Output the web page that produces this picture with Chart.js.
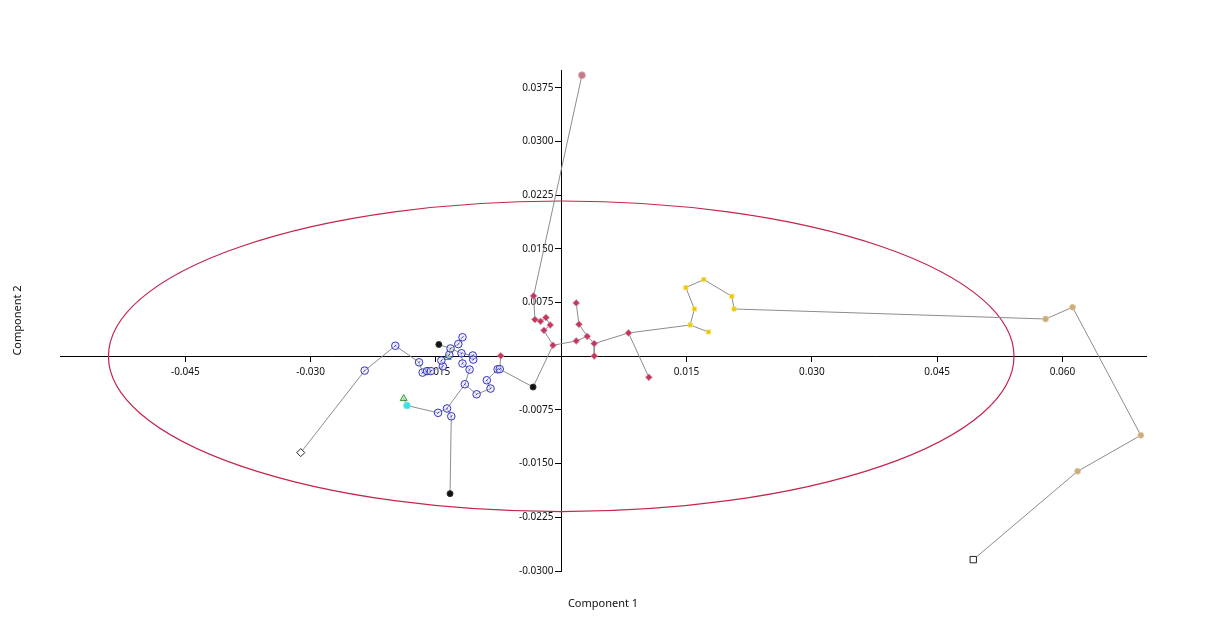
<!DOCTYPE html>
<html>
<head>
<meta charset="utf-8">
<title>PCA scores</title>
<script src="https://cdn.jsdelivr.net/npm/chart.js@4.4.1/dist/chart.umd.min.js"></script>
<style>
  html, body { margin: 0; padding: 0; background: #fff; }
  #wrap { width: 1206px; height: 641px; position: relative; }
</style>
</head>
<body>
<div id="wrap"><canvas id="pca-chart"></canvas></div>
<script>
// scores on component 1 / component 2, one list per group
const bluePoints = [
  [-0.02353, -0.00200], [-0.01986, 0.00147], [-0.01702, -0.00084], [-0.01659, -0.00228],
  [-0.01606, -0.00207], [-0.01561, -0.00207], [-0.01417, -0.00140], [-0.01435, -0.00059],
  [-0.01340, 0.00021], [-0.01325, 0.00109], [-0.01232, 0.00170], [-0.01182, 0.00266],
  [-0.01194, 0.00042], [-0.01059, 0.00011], [-0.01053, -0.00046], [-0.01182, -0.00101],
  [-0.01097, -0.00186], [-0.01154, -0.00391], [-0.01013, -0.00531], [-0.00846, -0.00451],
  [-0.00891, -0.00335], [-0.00762, -0.00182], [-0.00736, -0.00179], [-0.01474, -0.00790],
  [-0.01367, -0.00729], [-0.01316, -0.00838]
];
const redPoints = [
  [-0.00724, 0.00007], [-0.00331, 0.00843], [-0.00315, 0.00513], [-0.00248, 0.00489],
  [-0.00183, 0.00541], [-0.00132, 0.00437], [-0.00207, 0.00363], [-0.00099, 0.00154],
  [0.00179, 0.00745], [0.00212, 0.00447], [0.00311, 0.00279], [0.00179, 0.00214],
  [0.00395, 0.00177], [0.00395, 0.00004], [0.00805, 0.00326], [0.01049, -0.00293]
];
const yellowPoints = [
  [0.01543, 0.00437], [0.01762, 0.00340], [0.01594, 0.00661], [0.01492, 0.00960],
  [0.01707, 0.01072], [0.02042, 0.00838], [0.02069, 0.00661]
];
const tanPoints = [[0.05798, 0.00521], [0.06121, 0.00685], [0.06938, -0.01104], [0.06181, -0.01607]];
const pinkPoints = [[0.00248, 0.03927]];
const blackPoints = [[-0.01465, 0.00165], [-0.00337, -0.00430], [-0.01331, -0.01919]];
const greenPoints = [[-0.01886, -0.00591], [-0.01360, -0.00018]];
const cyanPoints = [[-0.01846, -0.00688]];
const diamondPoints = [[-0.03118, -0.01346]];
const squarePoints = [[0.04932, -0.02841]];

// minimum spanning tree: [groupA, indexA, groupB, indexB]
const treeEdges = [
  ["diamond", 0, "blue", 0], ["blue", 0, "blue", 1], ["blue", 1, "blue", 2], ["blue", 2, "blue", 3],
  ["blue", 3, "blue", 4], ["blue", 4, "blue", 5], ["blue", 5, "blue", 6], ["blue", 6, "blue", 7],
  ["blue", 7, "blue", 8], ["blue", 8, "blue", 9], ["black", 0, "blue", 9], ["blue", 9, "blue", 10],
  ["blue", 10, "blue", 11], ["blue", 9, "blue", 12], ["blue", 12, "blue", 13], ["blue", 13, "blue", 14],
  ["blue", 12, "blue", 15], ["blue", 15, "blue", 16], ["blue", 16, "blue", 17], ["blue", 17, "blue", 18],
  ["blue", 18, "blue", 19], ["blue", 19, "blue", 20], ["blue", 20, "blue", 21], ["blue", 21, "blue", 22],
  ["red", 0, "blue", 22], ["black", 1, "blue", 22], ["blue", 17, "blue", 24], ["blue", 24, "blue", 23],
  ["blue", 23, "cyan", 0], ["cyan", 0, "green", 0], ["blue", 24, "blue", 25], ["blue", 25, "black", 2],
  ["red", 7, "black", 1], ["pink", 0, "red", 1], ["red", 1, "red", 2], ["red", 2, "red", 3],
  ["red", 3, "red", 4], ["red", 4, "red", 5], ["red", 5, "red", 6], ["red", 6, "red", 7],
  ["red", 7, "red", 11], ["red", 11, "red", 10], ["red", 10, "red", 9], ["red", 9, "red", 8],
  ["red", 10, "red", 12], ["red", 12, "red", 13], ["red", 12, "red", 14], ["red", 14, "red", 15],
  ["red", 14, "yellow", 0], ["yellow", 0, "yellow", 1], ["yellow", 0, "yellow", 2], ["yellow", 2, "yellow", 3],
  ["yellow", 3, "yellow", 4], ["yellow", 4, "yellow", 5], ["yellow", 5, "yellow", 6], ["yellow", 6, "tan", 0],
  ["tan", 0, "tan", 1], ["tan", 1, "tan", 2], ["tan", 2, "tan", 3], ["tan", 3, "square", 0]
];

// 95% ellipse: centre and semi-axes in data units
const ellipseCenter = [0, 0];
const ellipseRadii = [0.0542, 0.0217];

const xRange = [-0.06, 0.07];
const yRange = [-0.03, 0.04];
const xTicks = [-0.045, -0.03, -0.015, 0.015, 0.03, 0.045, 0.06];
const yTicks = [-0.03, -0.0225, -0.015, -0.0075, 0.0075, 0.015, 0.0225, 0.03, 0.0375];

const groups = {
  blue: bluePoints, red: redPoints, yellow: yellowPoints, tan: tanPoints, pink: pinkPoints,
  black: blackPoints, green: greenPoints, cyan: cyanPoints, diamond: diamondPoints, square: squarePoints
};

const toXY = (list) => list.map((p) => ({ x: p[0], y: p[1] }));

// edges as one line, broken by null points
const treeData = [];
treeEdges.forEach((e) => {
  const a = groups[e[0]][e[1]];
  const b = groups[e[2]][e[3]];
  treeData.push({ x: a[0], y: a[1] }, { x: b[0], y: b[1] }, { x: null, y: null });
});

const ellipsePlugin = {
  id: "ellipse",
  beforeDatasetsDraw(chart) {
    const { ctx } = chart;
    const xs = chart.scales.x;
    const ys = chart.scales.y;
    const cx = xs.getPixelForValue(ellipseCenter[0]);
    const cy = ys.getPixelForValue(ellipseCenter[1]);
    const rx = Math.abs(xs.getPixelForValue(ellipseCenter[0] + ellipseRadii[0]) - cx);
    const ry = Math.abs(ys.getPixelForValue(ellipseCenter[1] + ellipseRadii[1]) - cy);
    ctx.save();
    ctx.beginPath();
    ctx.ellipse(cx, cy, rx, ry, 0, 0, Math.PI * 2);
    ctx.strokeStyle = "#c4254c";
    ctx.lineWidth = 1.2;
    ctx.stroke();
    ctx.restore();
  }
};

// axis names sit outside the plot, axes cross at the origin
const axisTitlePlugin = {
  id: "axisTitles",
  afterDraw(chart) {
    const { ctx, chartArea } = chart;
    ctx.save();
    ctx.font = '11px "Noto Sans"';
    ctx.fillStyle = "#111";
    ctx.textAlign = "center";
    ctx.textBaseline = "middle";
    ctx.fillText("Component 1", chart.width / 2, chartArea.bottom + 33);
    ctx.translate(18, (chartArea.top + chartArea.bottom) / 2);
    ctx.rotate(-Math.PI / 2);
    ctx.fillText("Component 2", 0, 0);
    ctx.restore();
  }
};

const tickFont = { family: "Noto Sans", size: 10 };

new Chart(document.getElementById("pca-chart"), {
  type: "scatter",
  data: {
    datasets: [
      {
        label: "tree",
        data: treeData,
        showLine: true,
        spanGaps: false,
        borderColor: "#8c8c8c",
        borderWidth: 1,
        pointRadius: 0,
        order: 10
      },
      {
        label: "group 1",
        data: toXY(greenPoints.slice(1)),
        pointStyle: "triangle",
        pointRadius: 4,
        backgroundColor: "rgba(150,215,150,0.6)",
        borderColor: "#3a9a3a",
        borderWidth: 1,
        order: 9
      },
      {
        label: "group 2",
        data: toXY(bluePoints),
        pointStyle: "circle",
        pointRadius: 3.8,
        backgroundColor: "rgba(225,225,252,0.5)",
        borderColor: "#3434c8",
        borderWidth: 1,
        order: 6
      },
      {
        // small mark inside the blue circles
        label: "group 2 mark",
        data: toXY(bluePoints),
        pointStyle: "line",
        rotation: -45,
        pointRadius: 1.4,
        borderColor: "#3434c8",
        borderWidth: 1,
        order: 5
      },
      {
        label: "group 3",
        data: toXY(redPoints),
        pointStyle: "rectRot",
        pointRadius: 3.4,
        backgroundColor: "#c2375c",
        borderColor: "rgba(225,140,165,0.8)",
        borderWidth: 1,
        order: 5
      },
      {
        label: "group 4",
        data: toXY(yellowPoints),
        pointStyle: "rect",
        pointRadius: 3,
        backgroundColor: "#ecc700",
        borderColor: "rgba(245,225,120,0.8)",
        borderWidth: 1,
        order: 5
      },
      {
        label: "group 5",
        data: toXY(tanPoints),
        pointStyle: "circle",
        pointRadius: 3,
        backgroundColor: "#c9ab7c",
        borderColor: "rgba(225,205,165,0.8)",
        borderWidth: 1,
        order: 5
      },
      {
        label: "group 6",
        data: toXY(pinkPoints),
        pointStyle: "circle",
        pointRadius: 3.5,
        backgroundColor: "#c27d88",
        borderColor: "rgba(220,170,180,0.8)",
        borderWidth: 1,
        order: 5
      },
      {
        label: "group 7",
        data: toXY(blackPoints),
        pointStyle: "circle",
        pointRadius: 3,
        backgroundColor: "#111",
        borderColor: "#333",
        borderWidth: 1,
        order: 4
      },
      {
        label: "group 8",
        data: toXY(greenPoints.slice(0, 1)),
        pointStyle: "triangle",
        pointRadius: 4,
        backgroundColor: "rgba(150,215,150,0.6)",
        borderColor: "#3a9a3a",
        borderWidth: 1,
        order: 4
      },
      {
        label: "group 9",
        data: toXY(cyanPoints),
        pointStyle: "circle",
        pointRadius: 3.5,
        backgroundColor: "#3fe0e6",
        borderColor: "rgba(130,235,240,0.7)",
        borderWidth: 1,
        order: 3
      },
      {
        label: "group 10",
        data: toXY(diamondPoints),
        pointStyle: "rectRot",
        pointRadius: 4,
        backgroundColor: "#fff",
        borderColor: "#222",
        borderWidth: 1,
        order: 4
      },
      {
        label: "group 11",
        data: toXY(squarePoints),
        pointStyle: "rect",
        pointRadius: 4.5,
        backgroundColor: "#fff",
        borderColor: "#222",
        borderWidth: 1,
        order: 4
      }
    ]
  },
  options: {
    responsive: true,
    maintainAspectRatio: false,
    animation: false,
    events: [],
    layout: { padding: { left: 60, right: 60, top: 70, bottom: 70 } },
    plugins: {
      legend: { display: false },
      tooltip: { enabled: false }
    },
    scales: {
      x: {
        type: "linear",
        min: xRange[0],
        max: xRange[1],
        position: { y: 0 },
        afterBuildTicks: (scale) => {
          scale.ticks = xTicks.map((v) => ({ value: v }));
        },
        ticks: {
          callback: (v) => Number(v).toFixed(3),
          font: tickFont,
          color: "#111",
          padding: 5,
          maxRotation: 0,
          autoSkip: false
        },
        grid: { drawOnChartArea: false, drawTicks: true, tickLength: 5, color: "#000" },
        border: { display: true, color: "#000", width: 1 }
      },
      y: {
        type: "linear",
        min: yRange[0],
        max: yRange[1],
        position: { x: 0 },
        afterBuildTicks: (scale) => {
          scale.ticks = yTicks.map((v) => ({ value: v }));
        },
        ticks: {
          // labels of a centred y axis are anchored on the axis line, so leave room for the tick
          callback: (v) => Number(v).toFixed(4) + "   ",
          font: tickFont,
          color: "#111",
          autoSkip: false
        },
        grid: { drawOnChartArea: false, drawTicks: true, tickLength: 6, color: "#000" },
        border: { display: true, color: "#000", width: 1 }
      }
    }
  },
  plugins: [ellipsePlugin, axisTitlePlugin]
});
</script>
</body>
</html>
